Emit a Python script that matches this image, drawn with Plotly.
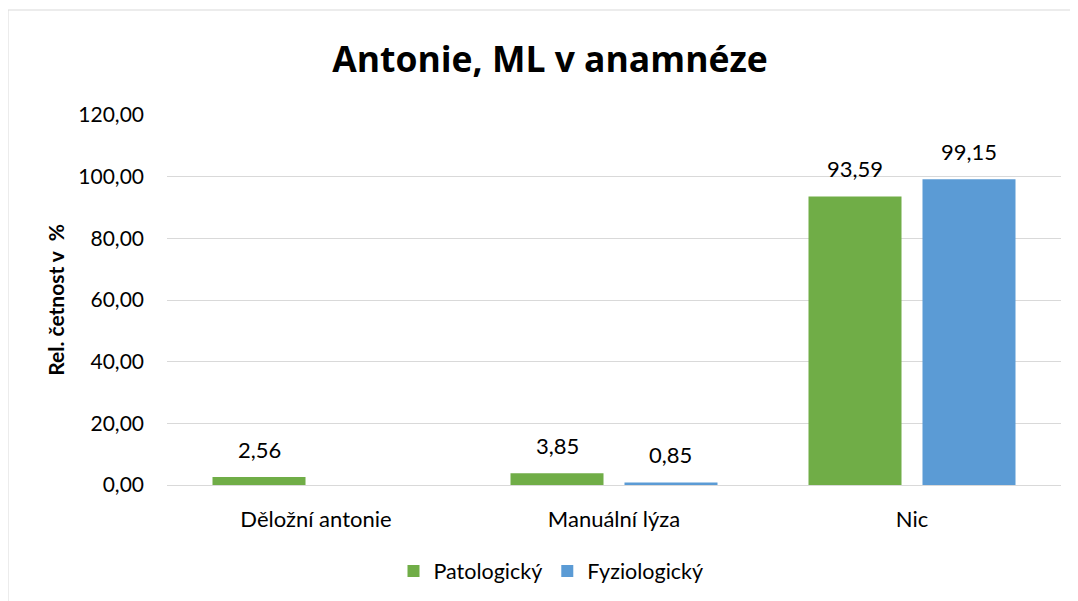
import plotly.graph_objects as go

categories = ["Děložní antonie", "Manuální lýza", "Nic"]
patologicky = [2.56, 3.85, 93.59]
fyziologicky = [None, 0.85, 99.15]
series_names = ["Patologický", "Fyziologický"]
series_colors = ["#70ad47", "#5b9bd5"]
y_ticks = [0, 20, 40, 60, 80, 100, 120]

FONT = "Lato, Calibri, Carlito, sans-serif"
TFONT = "Open Sans, sans-serif"
OFF = 8  # page body margin
W, H = 1078 - OFF, 601 - OFF
L, R, T, B = 167 - OFF, 1078 - 1061, 115 - OFF, 601 - 485
pw, ph = W - L - R, H - T - B
BARGAP = 0.235
GROUPGAP = 0.184

fig = go.Figure()
for name, vals, col in zip(series_names, [patologicky, fyziologicky], series_colors):
    fig.add_trace(go.Bar(
        x=categories, y=vals, name=name,
        marker=dict(color=col, line=dict(width=0)),
    ))

# data labels above bars
slot = pw / len(categories) * (1 - BARGAP) / 2
annotations = []
for i, vals in enumerate([patologicky, fyziologicky]):
    shift = (i - 0.5) * slot
    for c, v in zip(categories, vals):
        if v is None:
            continue
        annotations.append(dict(
            x=c, y=v, xref="x", yref="y", text=f"{v:.2f}".replace(".", ","),
            showarrow=False, xshift=shift, yshift=12, yanchor="bottom",
            font=dict(size=22, family=FONT, color="#000000")))

def px_x(p):
    return (p - OFF - L) / pw

def px_y(p):
    return (H - B - (p - OFF)) / ph

fig.update_layout(
    width=W, height=H,
    margin=dict(l=L, r=R, t=T, b=B, autoexpand=False),
    paper_bgcolor="white", plot_bgcolor="white",
    separators=", ",
    font=dict(family=FONT, color="#000000", size=21),
    title=dict(text="<b>Antonie, ML v anamnéze</b>", x=(550 - OFF) / W, xanchor="center",
               y=1 - (60 - OFF) / H, yanchor="middle",
               font=dict(size=35.5, family=TFONT, color="#000000")),
    barmode="group", bargap=BARGAP, bargroupgap=GROUPGAP,
    showlegend=True,
    legend=dict(orientation="h", x=px_x(551), xanchor="center",
                y=px_y(571), yanchor="middle",
                font=dict(size=21.5, family=FONT, color="#000000"),
                traceorder="normal"),
    xaxis=dict(showgrid=False, showline=True, linecolor="#d9d9d9", linewidth=1,
               ticks="", tickangle=0, automargin=False,
               tickfont=dict(size=22, family=FONT, color="#000000"),
               ticklabelstandoff=15),
    yaxis=dict(range=[0, 120], tickvals=y_ticks, tickformat=".2f",
               showgrid=True, gridcolor="#d9d9d9", gridwidth=1,
               zeroline=False, showline=False, ticks="", automargin=False,
               tickfont=dict(size=21, family=FONT, color="#000000"),
               ticklabelstandoff=22,
               title=dict(text="<b>Rel. četnost v  %</b>",
                          font=dict(size=21, family=FONT, color="#000000"),
                          standoff=7)),
    annotations=annotations,
    shapes=[dict(type="rect", xref="paper", yref="paper",
                 x0=px_x(8), x1=px_x(1090), y0=px_y(620), y1=px_y(10),
                 line=dict(color="#d9d9d9", width=1), fillcolor="rgba(0,0,0,0)",
                 layer="below")],
)

fig.write_html("out.html")
